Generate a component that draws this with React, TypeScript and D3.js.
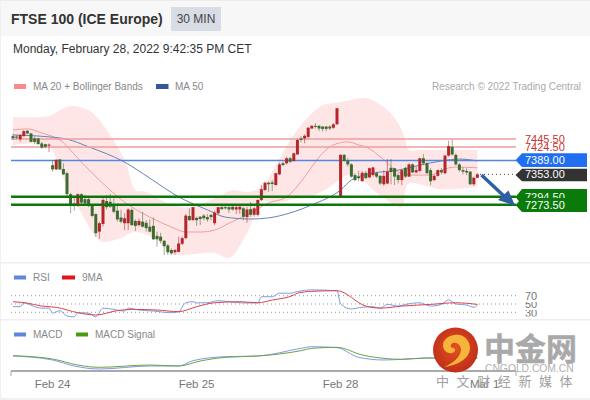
import React from "react";
import * as d3 from "d3";

const opens = [7453,7452,7445,7453,7467,7460,7447,7447,7434,7432,7428,7377,7366,7392,7367,7356,7301,7277,7275,7301,7288,7288,7270,7249,7203,7223,7283,7281,7275,7258,7240,7225,7225,7260,7231,7220,7229,7226,7216,7218,7192,7190,7179,7167,7155,7149,7150,7171,7186,7244,7233,7239,7242,7245,7241,7247,7225,7251,7267,7267,7267,7268,7261,7261,7264,7241,7262,7247,7247,7286,7312,7331,7332,7325,7353,7382,7382,7395,7388,7405,7447,7447,7451,7473,7480,7480,7478,7478,7478,7475,7484,7294,7404,7389,7379,7351,7347,7335,7357,7345,7351,7356,7349,7327,7329,7370,7369,7351,7338,7370,7347,7379,7358,7362,7395,7382,7364,7338,7349,7364,7356,7402,7425,7404,7379,7364,7362,7360,7327,7344];
const highs = [7460,7456,7458,7469,7469,7462,7452,7449,7438,7434,7434,7389,7392,7393,7382,7360,7305,7294,7303,7303,7299,7296,7273,7251,7229,7293,7299,7302,7290,7277,7260,7251,7264,7264,7235,7238,7255,7233,7235,7240,7203,7200,7181,7171,7159,7157,7190,7190,7249,7264,7268,7242,7244,7249,7249,7248,7258,7268,7270,7273,7273,7273,7270,7275,7268,7268,7281,7267,7287,7325,7334,7334,7338,7357,7384,7386,7399,7399,7410,7445,7453,7458,7477,7482,7487,7482,7480,7480,7482,7487,7527,7406,7406,7395,7382,7356,7362,7362,7362,7371,7373,7360,7351,7364,7393,7393,7370,7356,7366,7373,7382,7382,7373,7397,7406,7385,7369,7353,7366,7369,7404,7441,7443,7408,7382,7371,7369,7362,7347,7356];
const lows = [7443,7445,7438,7452,7458,7437,7432,7431,7420,7421,7411,7360,7364,7364,7351,7296,7251,7258,7268,7275,7273,7267,7240,7190,7184,7216,7261,7265,7251,7229,7225,7207,7207,7218,7205,7216,7214,7203,7201,7181,7164,7172,7142,7142,7142,7142,7149,7168,7183,7231,7232,7218,7220,7232,7229,7232,7220,7249,7260,7261,7252,7258,7249,7249,7233,7226,7242,7242,7242,7283,7309,7307,7309,7323,7351,7376,7379,7382,7386,7404,7437,7434,7447,7472,7473,7466,7465,7466,7469,7472,7482,7294,7386,7373,7344,7334,7335,7334,7341,7343,7347,7343,7325,7323,7327,7327,7325,7329,7325,7343,7346,7356,7356,7358,7377,7353,7325,7335,7347,7353,7353,7399,7402,7376,7360,7353,7351,7325,7323,7343];
const closes = [7448,7449,7456,7466,7460,7438,7438,7432,7423,7425,7431,7366,7391,7366,7353,7301,7273,7270,7301,7279,7277,7270,7244,7199,7225,7286,7267,7268,7255,7235,7229,7238,7261,7220,7218,7231,7216,7212,7203,7183,7183,7179,7165,7149,7146,7155,7172,7186,7245,7233,7267,7233,7236,7238,7235,7241,7253,7267,7262,7264,7261,7261,7267,7268,7242,7261,7247,7264,7286,7314,7331,7327,7328,7356,7379,7377,7395,7386,7408,7443,7443,7454,7475,7480,7478,7473,7472,7472,7473,7484,7526,7404,7388,7379,7347,7338,7343,7357,7343,7369,7371,7347,7329,7349,7360,7359,7347,7338,7364,7347,7379,7358,7364,7395,7382,7356,7335,7349,7364,7358,7402,7427,7405,7379,7364,7360,7358,7327,7344,7353];

const ma20Idx = [0,4,8,13,19,24,31,38,44,48,52,56,60,66,71,76,81,85,89,93,96,98,103,107,111,116,119,123,129];
const ma20Val = [7469,7472,7461,7443,7385,7338,7280,7241,7215,7202,7202,7207,7225,7252,7278,7294,7346,7398,7430,7438,7430,7425,7391,7359,7351,7351,7364,7372,7370];
const ma50Idx = [0,10,15,21,31,38,46,54,59,66,71,77,83,91,94,100,107,113,119,124,129];
const ma50Val = [7456,7451,7445,7425,7385,7343,7294,7260,7241,7236,7239,7252,7273,7312,7338,7356,7364,7377,7388,7393,7388];
const upperIdx = [0,10,13,16,21,24,31,34,37,43,49,57,61,65,69,73,77,82,86,91,94,98,103,107,109,110,113,119,129];
const upperVal = [7503,7506,7521,7532,7521,7495,7391,7312,7307,7278,7267,7294,7312,7307,7320,7377,7443,7503,7534,7542,7548,7553,7529,7487,7443,7417,7417,7417,7417];
const lowerIdx = [0,8,10,15,19,23,25,30,34,40,44,47,56,60,65,69,73,77,83,88,92,94,96,98,100,103,105,108,109,110,119,129];
const lowerVal = [7430,7435,7430,7320,7252,7189,7176,7186,7202,7181,7147,7142,7147,7134,7199,7283,7278,7286,7296,7320,7348,7353,7343,7330,7312,7291,7278,7267,7312,7330,7314,7320];

const rsiIdx = [0,2,3,6,8,10,11,13,15,17,18,21,23,25,28,31,32,35,39,44,46,48,50,51,52,54,57,60,64,68,69,72,74,77,79,83,90,91,94,96,100,102,104,107,109,113,116,119,121,123,126,128,129];
const rsiVal = [43.5,43.5,53,43.5,40,40,28,34,21,19,29,28,19,40,37,33,40,35.5,33,29,31.5,53,55.5,52.5,53,53,58,55.5,52.5,52.5,67.5,67.5,76,76,80,84,82,50,38,41,43.5,40,49,45,49,53,45,49,60,50,47.5,42,47.5];
const rsiMaIdx = [0,4,8,12,18,23,29,33,40,46,51,56,63,68,72,78,79,83,90,98,102,108,116,123,129];
const rsiMaVal = [55.5,52,45,42,29,23.5,34,37,35.5,31.5,43.5,53,55.5,53,59.5,71.5,76,80.5,82,45,40,45,49,53,49];

const macdIdx = [0,11,17,24,38,46,50,59,68,80,83,90,96,103,108,115,129];
const macdVal = [3,-3,-12,-16.5,-12,-12,-4,2,3,14.5,17,15.5,1,-3,-2,0,0];
const signalIdx = [0,11,18,24,38,46,52,59,68,80,83,90,97,104,108,115,129];
const signalVal = [3.5,-1.5,-10.5,-14,-10.5,-12,-4.5,1,3,11,14.5,16,4.5,-1,-2,0,0];

const levels = [7445.5, 7424.5, 7389, 7353, 7294.5, 7273.5];
const rsiLevels = [70, 50, 30];
const dayTicks = [{ i: 11, label: "Feb 24" }, { i: 51, label: "Feb 25" }, { i: 91, label: "Feb 28" }, { i: 131, label: "Mar 1" }];

const FONT = "'Liberation Sans', Arial, sans-serif";
const CJK = "'Noto Sans CJK SC', sans-serif";

const x = d3.scaleLinear().domain([0, 129]).range([13, 477.4]);
const y = d3.scaleLinear().domain([7273.5, 7445.5]).range([204.7, 139]);
const yR = d3.scaleLinear().domain([30, 70]).range([312.3, 295.7]);
const yM = d3.scaleLinear().domain([0, 15]).range([358, 348]);

const zip = (a: number[], b: number[]) => a.map((v, k) => [v, b[k]] as [number, number]);

function path(idx: number[], vals: number[], sc: d3.ScaleLinear<number, number>) {
  return d3.line<[number, number]>().x((d) => x(d[0])).y((d) => sc(d[1])).curve(d3.curveMonotoneX)(zip(idx, vals)) as string;
}
function bandPath() {
  const l = d3.line<[number, number]>().x((d) => x(d[0])).y((d) => y(d[1])).curve(d3.curveCatmullRom.alpha(0.5));
  const up = l(zip(upperIdx, upperVal)) as string;
  const lo = l(zip(lowerIdx, lowerVal).reverse()) as string;
  return up + "L" + lo.slice(1) + "Z";
}
function tag(y0: number, y1: number) {
  const m = (y0 + y1) / 2;
  return `M515.5,${m}L522,${y0}H587V${y1}H522Z`;
}

export default function App() {
  return (
    <svg width={590} height={400} viewBox="0 0 590 400" style={{ position: "absolute", left: 0, top: 0, fontFamily: FONT }}>
      <defs>
        <clipPath id="c50"><rect x={520} y={302} width={40} height={8} /></clipPath>
        <clipPath id="c30"><rect x={520} y={310} width={40} height={6.5} /></clipPath>
        <clipPath id="c294"><rect x={520} y={189} width={60} height={9} /></clipPath>
        <radialGradient id="logo" cx="0.5" cy="0.45" r="0.6">
          <stop offset="0" stopColor="#e2521f" />
          <stop offset="1" stopColor="#bd2a1a" />
        </radialGradient>
      </defs>
      <rect width={590} height={400} fill="#fff" />
      <rect width={590} height={36} fill="#f7f7f7" />
      <rect x={0} y={0} width={590} height={1} fill="#ececec" />
      <rect x={0} y={0} width={1} height={400} fill="#f0f0f0" />
      <rect x={0} y={262} width={590} height={1.5} fill="#eeeeee" />
      <rect x={0} y={319} width={590} height={1.5} fill="#eeeeee" />
      <rect x={0} y={398} width={590} height={2} fill="#f0f0f0" />

      <text x={11} y={24} fontSize={14} fontWeight={700} fill="#333">FTSE 100 (ICE Europe)</text>
      <rect x={171} y={7} width={50} height={24} fill="#d8dce4" />
      <text x={196} y={23} fontSize={12} textAnchor="middle" fill="#444">30 MIN</text>
      <text x={13} y={53} fontSize={12} fill="#333">Monday, February 28, 2022 9:42:35 PM CET</text>

      <rect x={14} y={84} width={12} height={5} fill="#f98a8a" />
      <text x={33} y={90} fontSize={10} fill="#888">MA 20 + Bollinger Bands</text>
      <rect x={156} y={84} width={12.5} height={5} fill="#33589b" />
      <text x={175} y={90} fontSize={10} fill="#888">MA 50</text>
      <text x={581} y={90} fontSize={10} textAnchor="end" fill="#aaa">Research © 2022 Trading Central</text>

      <path d={bandPath()} fill="#ffe6e6" />
      <path d={path(ma20Idx, ma20Val, y)} fill="none" stroke="#ef9d9d" strokeWidth={1} />
      <path d={path(ma50Idx, ma50Val, y)} fill="none" stroke="#6583b5" strokeWidth={1} />

      {levels.slice(0, 2).map((v) => (
        <line key={v} x1={11} x2={516} y1={y(v)} y2={y(v)} stroke="#ee9c9c" strokeWidth={1.5} />
      ))}
      <line x1={11} x2={516} y1={y(7389)} y2={y(7389)} stroke="#5585e0" strokeWidth={1.5} />
      <line x1={480} x2={516} y1={y(7353)} y2={y(7353)} stroke="#444" strokeWidth={1} strokeDasharray="1 3" />

      {opens.map((o, i) => {
        const c = closes[i];
        const col = c >= o ? "#b3262b" : "#3f6a30";
        const top = y(Math.max(o, c));
        const bot = y(Math.min(o, c));
        return (
          <g key={i}>
            <line x1={x(i)} x2={x(i)} y1={y(highs[i])} y2={y(lows[i])} stroke={col} strokeOpacity={0.55} strokeWidth={1} />
            <rect x={x(i) - 1.5} y={top} width={3} height={Math.max(bot - top, 1)} fill={col} />
          </g>
        );
      })}

      {levels.slice(4).map((v) => (
        <line key={v} x1={11} x2={516} y1={y(v)} y2={y(v)} stroke="#0c760c" strokeWidth={2.4} />
      ))}

      <text x={525} y={143} fontSize={11} fill="#c5342f">7445.50</text>
      <text x={525} y={151} fontSize={11} fill="#c5342f">7424.50</text>
      <path d={tag(153.3, 167)} fill="#1f6ff0" />
      <text x={525} y={164} fontSize={11} fill="#fff">7389.00</text>
      <path d={tag(168.7, 181.3)} fill="#333333" />
      <text x={525} y={178.3} fontSize={11} fill="#fff">7353.00</text>
      <path d={tag(189, 205)} fill="#0a7a0a" />
      <text x={525} y={200.5} fontSize={11} fill="#fff" clipPath="url(#c294)">7294.50</text>
      <path d={tag(198, 212)} fill="#0a7a0a" />
      <text x={525} y={208.5} fontSize={11} fill="#fff">7273.50</text>

      <line x1={481.5} y1={175} x2={505} y2={197} stroke="#2d5fa3" strokeWidth={3.4} />
      <path d="M508.5,190.5L515,205.5L498,200Z" fill="#2d5fa3" />

      <rect x={14} y={275.5} width={12} height={4} fill="#5f86dc" />
      <text x={33} y={281} fontSize={10} fill="#888">RSI</text>
      <rect x={62} y={275.5} width={13} height={4} fill="#e2141c" />
      <text x={82} y={281} fontSize={10} fill="#888">9MA</text>
      {rsiLevels.map((v) => (
        <line key={v} x1={11} x2={516} y1={yR(v)} y2={yR(v)} stroke="#999" strokeWidth={1} strokeDasharray="1 3" />
      ))}
      <path d={path(rsiIdx, rsiVal, yR)} fill="none" stroke="#7f9de0" strokeWidth={1} />
      <path d={path(rsiMaIdx, rsiMaVal, yR)} fill="none" stroke="#d8434f" strokeWidth={1} />
      <text x={525} y={300} fontSize={11} fill="#777">70</text>
      <text x={525} y={308.3} fontSize={11} fill="#777" clipPath="url(#c50)">50</text>
      <text x={525} y={316.5} fontSize={11} fill="#777" clipPath="url(#c30)">30</text>

      <rect x={14} y={332.5} width={12} height={4} fill="#5f86dc" />
      <text x={33} y={338} fontSize={10} fill="#888">MACD</text>
      <rect x={76} y={332.5} width={12} height={4} fill="#4a9b10" />
      <text x={95} y={338} fontSize={10} fill="#888">MACD Signal</text>
      <path d={path(macdIdx, macdVal, yM)} fill="none" stroke="#7f9de0" strokeWidth={1} />
      <path d={path(signalIdx, signalVal, yM)} fill="none" stroke="#6da04a" strokeWidth={1} />

      <line x1={11} x2={516} y1={371} y2={371} stroke="#aaa" strokeWidth={2} />
      <line x1={11} x2={11} y1={371} y2={376} stroke="#aaa" strokeWidth={1} />
      <line x1={516} x2={516} y1={371} y2={376} stroke="#aaa" strokeWidth={1} />
      {dayTicks.map((t) => (
        <text key={t.label} x={13 + 3.6 * t.i} y={388} fontSize={11.5} textAnchor="middle" fill="#777">{t.label}</text>
      ))}

      <circle cx={455.5} cy={350} r={22.5} fill="url(#logo)" />
      <path d="M454,335c9,-2 16,5 16,13c0,9 -10,17 -26,19c9,-4 16,-9 17,-17c0,-5 -4,-8 -8,-7c-3,1 -3,5 0,5c3,0 3,4 -1,5c-5,1 -9,-3 -9,-8c0,-5 5,-9 11,-10z" fill="#f6b43c" />
      <text x={484} y={360} fontSize={31} fontWeight={700} fill="#a9a9a9" stroke="#a9a9a9" strokeWidth={0.5} fontFamily={CJK}>中金网</text>
      <text x={485} y={372} fontSize={10.3} fill="#b0b0b0">CNGOLD.COM.CN</text>
      <text x={436} y={386} fontSize={13} fill="#a0a0a0" fontFamily={CJK} letterSpacing={7.6}>中文财经新媒体</text>
    </svg>
  );
}
